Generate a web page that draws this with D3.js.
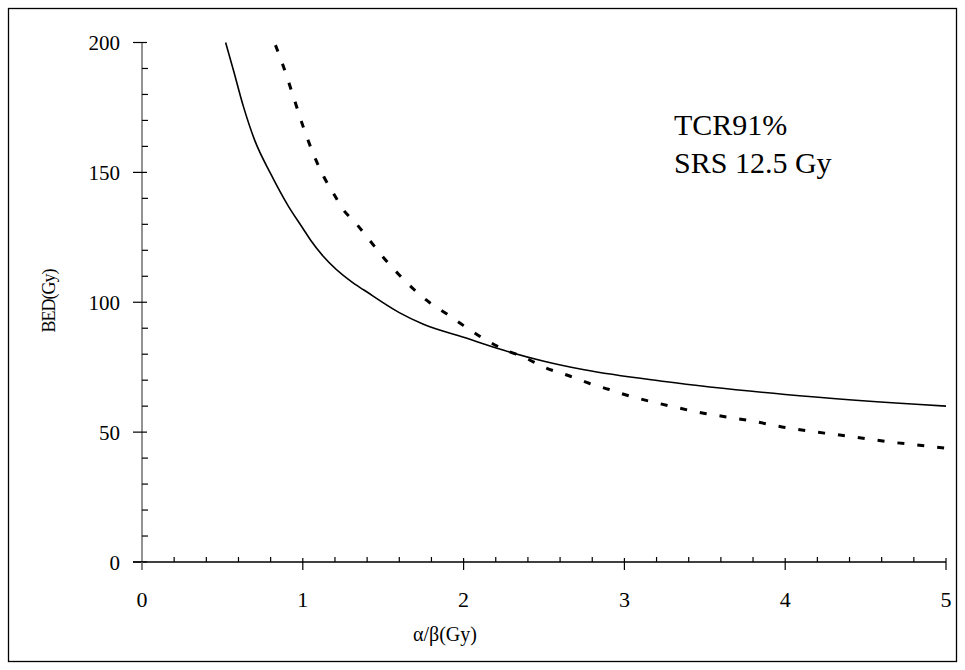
<!DOCTYPE html>
<html>
<head>
  <meta http-equiv="Content-Type" content="text/html; charset=UTF-8" />
  <title>BED vs alpha/beta</title>
  <style>
    body {
      padding: 0;
      margin: 0;
      background: #fff;
    }
  </style>
</head>
<body>

<svg width="965" height="670"></svg>

<script src="https://d3js.org/d3.v7.min.js"></script>
<script>

// solid curve
var solidX = [0.52, 0.57, 0.63, 0.70, 0.80, 0.91, 1.0, 1.05, 1.13, 1.3, 1.38, 1.6, 1.75, 2.0, 2.25, 2.5, 2.75, 3.25, 4.0, 5.0]
var solidY = [200, 189, 175.5, 162.5, 149.5, 137, 128.5, 123.8, 117.5, 108, 104.7, 96, 91.5, 86.5, 81.5, 77.3, 74, 69.5, 64.5, 60]

// dashed curve
var dashX = [0.83, 0.88, 0.95, 1.0, 1.08, 1.13, 1.19, 1.25, 1.33, 1.41, 1.5, 1.6, 1.69, 1.79, 1.9, 2.0, 2.13, 2.25, 2.38, 2.5, 2.66, 2.78, 2.9, 3.0, 3.15, 3.28, 3.5, 3.65, 3.8, 4.0, 4.17, 4.3, 4.5, 4.65, 4.8, 5.0]
var dashY = [199, 190.7, 177.5, 168, 155, 148.4, 142, 135.8, 130.4, 124.3, 117.3, 110.5, 105, 99.8, 95.3, 91, 85.8, 81.9, 78.7, 75, 71.6, 68.8, 66.5, 64.5, 62, 60.1, 57.2, 55.7, 54.2, 51.8, 50.2, 49.2, 47.5, 46.2, 45.2, 43.8]

var xTicks = [0, 1, 2, 3, 4, 5]
var yTicks = [0, 50, 100, 150, 200]
var legendLines = ["TCR91%", "SRS 12.5 Gy"]

var serif = "'Liberation Serif', 'Times New Roman', Times, serif"

var svg = d3.select("svg")

var x = d3.scaleLinear().domain([0, 5]).range([142, 946])
var y = d3.scaleLinear().domain([0, 200]).range([562, 42.5])

// outer frame
svg.append("rect")
  .attr("x", 8.5)
  .attr("y", 8.5)
  .attr("width", 948)
  .attr("height", 653)
  .style("fill", "none")
  .style("stroke", "#000")
  .style("stroke-width", 1.3)

// y axis
svg.append("line")
  .attr("x1", x(0)).attr("x2", x(0))
  .attr("y1", y(200)).attr("y2", y(0) + 8)
  .style("stroke", "#777")
  .style("stroke-width", 1.6)

svg.selectAll("line.yminor")
  .data(d3.range(0, 200.1, 10).filter(d => d % 50 !== 0))
  .enter()
  .append("line")
  .attr("class", "yminor")
  .attr("x1", x(0)).attr("x2", x(0) + 6)
  .attr("y1", d => y(d)).attr("y2", d => y(d))
  .style("stroke", "#000")
  .style("stroke-width", 1.2)

svg.selectAll("line.ymajor")
  .data(yTicks)
  .enter()
  .append("line")
  .attr("class", "ymajor")
  .attr("x1", x(0) - 9).attr("x2", x(0) + 5)
  .attr("y1", d => y(d)).attr("y2", d => y(d))
  .style("stroke", "#000")
  .style("stroke-width", 1.2)

svg.selectAll("text.ylab")
  .data(yTicks)
  .enter()
  .append("text")
  .attr("class", "ylab")
  .attr("x", 120)
  .attr("y", d => y(d) + 7.5)
  .style("text-anchor", "end")
  .style("font-family", serif)
  .style("font-size", "21px")
  .text(d => d)

// x axis
svg.append("line")
  .attr("x1", x(0) - 9).attr("x2", x(5))
  .attr("y1", y(0)).attr("y2", y(0))
  .style("stroke", "#000")
  .style("stroke-width", 1.4)

svg.selectAll("line.xminor")
  .data(d3.range(1, 25).map(d => d / 5).filter(d => d % 1 !== 0))
  .enter()
  .append("line")
  .attr("class", "xminor")
  .attr("x1", d => x(d)).attr("x2", d => x(d))
  .attr("y1", y(0) - 5).attr("y2", y(0))
  .style("stroke", "#000")
  .style("stroke-width", 1.2)

svg.selectAll("line.xmajor")
  .data(xTicks)
  .enter()
  .append("line")
  .attr("class", "xmajor")
  .attr("x1", d => x(d)).attr("x2", d => x(d))
  .attr("y1", d => d === 0 ? y(0) : y(0) - 4).attr("y2", y(0) + 8)
  .style("stroke", d => d === 0 ? "#777" : "#000")
  .style("stroke-width", 1.2)

svg.selectAll("text.xlab")
  .data(xTicks)
  .enter()
  .append("text")
  .attr("class", "xlab")
  .attr("x", d => x(d))
  .attr("y", 607)
  .style("text-anchor", "middle")
  .style("font-family", serif)
  .style("font-size", "22px")
  .text(d => d)

// axis titles
svg.append("text")
  .attr("x", 445)
  .attr("y", 641)
  .style("text-anchor", "middle")
  .style("font-family", serif)
  .style("font-size", "20px")
  .text("α/β(Gy)")

svg.append("text")
  .attr("transform", "translate(55,301) rotate(-90)")
  .style("text-anchor", "middle")
  .style("font-family", serif)
  .style("font-size", "18px")
  .style("letter-spacing", "-1px")
  .text("BED(Gy)")

// curves
var line = d3.line()
  .x(d => x(d[0]))
  .y(d => y(d[1]))
  .curve(d3.curveMonotoneX)

svg.append("path")
  .datum(d3.zip(solidX, solidY))
  .attr("d", line)
  .style("fill", "none")
  .style("stroke", "#000")
  .style("stroke-width", 1.6)

svg.append("path")
  .datum(d3.zip(dashX, dashY))
  .attr("d", line)
  .style("fill", "none")
  .style("stroke", "#000")
  .style("stroke-width", 3)
  .style("stroke-dasharray", "7,13")

// annotation
svg.selectAll("text.legend")
  .data(legendLines)
  .enter()
  .append("text")
  .attr("class", "legend")
  .attr("x", 674)
  .attr("y", (d, i) => 135 + i * 38)
  .style("font-family", serif)
  .style("font-size", "30px")
  .text(d => d)

</script>
</body>
</html>
